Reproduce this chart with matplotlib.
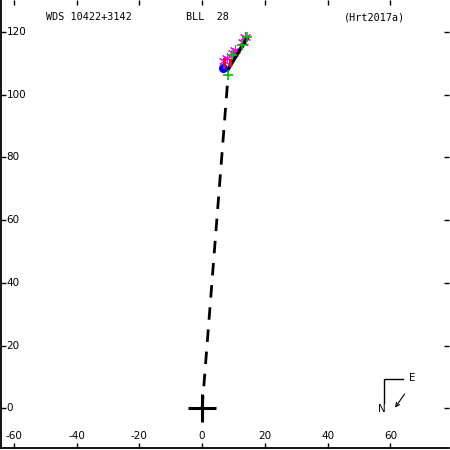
import matplotlib
matplotlib.use("Agg")
import matplotlib.pyplot as plt
from matplotlib import transforms

# ---- data ----
title_left = "WDS 10422+3142"
title_mid = "BLL  28"
title_right = "(Hrt2017a)"

xticks = [-60, -40, -20, 0, 20, 40, 60]
yticks = [0, 20, 40, 60, 80, 100, 120]

orbit_x = [7.9, 14.6]
orbit_y = [107.5, 118.5]

node_x = [0.0, 8.3]
node_y = [0.0, 106.3]

magenta_x = [13.7, 12.9, 10.5, 9.8, 7.8, 7.0]
magenta_y = [118.4, 116.9, 114.3, 113.3, 111.7, 110.6]

green_x = [14.2, 12.6, 9.4, 8.3]
green_y = [118.5, 115.9, 112.7, 106.3]

blue_x = [6.7]
blue_y = [108.6]

red_x0 = [6.9, 8.9]
red_y0 = [108.9, 109.5]
red_x1 = [6.9, 8.9]
red_y1 = [111.4, 111.1]

# ---- figure ----
fig = plt.figure(figsize=(4.5, 4.5), dpi=100)
ax = fig.add_axes([0.002, 0.004, 0.996, 0.996])
ax.set_xlim(-64.1, 78.7)
ax.set_ylim(-12.7, 130.2)
for s in ["top", "right"]:
    ax.spines[s].set_visible(False)
for s in ["left", "bottom"]:
    ax.spines[s].set_linewidth(1.3)

ax.set_xticks(xticks)
ax.set_yticks(yticks)
ax.tick_params(axis="both", direction="in", length=3.5, width=1.0,
               top=True, right=True, labelbottom=False, labelleft=False)

fs = 7.5
bx = transforms.blended_transform_factory(ax.transData, ax.transAxes)
by = transforms.blended_transform_factory(ax.transAxes, ax.transData)
for v in xticks:
    ax.text(v, 0.017, str(v), transform=bx, ha="center", va="bottom",
            fontsize=fs, family="DejaVu Sans")
for v in yticks:
    ax.text(0.013, v, str(v), transform=by, ha="left", va="center",
            fontsize=fs, family="DejaVu Sans")

ax.text(0.1, 0.962, title_left, transform=ax.transAxes, fontsize=7.3,
        family="DejaVu Sans Mono", ha="left", va="center")
ax.text(0.413, 0.962, title_mid, transform=ax.transAxes, fontsize=7.3,
        family="DejaVu Sans Mono", ha="left", va="center")
ax.text(0.766, 0.962, title_right, transform=ax.transAxes, fontsize=7.3,
        family="DejaVu Sans Mono", ha="left", va="center")

# dashed line to origin
ax.plot(node_x, node_y, color="black", lw=2.0, dashes=(4.5, 3.5))
# origin cross
ax.plot([0], [0], marker="+", markersize=20, mew=2.2, color="black")

ax.plot(magenta_x, magenta_y, ls="none", marker=(6, 2, 0), markersize=8,
        mew=0.8, color="magenta")
# orbit segment
ax.plot(orbit_x, orbit_y, color="black", lw=2.5, solid_capstyle="butt")
ax.plot(green_x, green_y, ls="none", marker="+", markersize=7,
        mew=1.2, color="#00c000")
ax.plot(blue_x, blue_y, ls="none", marker="o", markersize=5.5,
        color="blue")
# red residual lines
for xa, ya, xb, yb in zip(red_x0, red_y0, red_x1, red_y1):
    ax.plot([xa, xb], [ya, yb], color="red", lw=2.2)

# compass
ax.plot([57.8, 57.8, 64.1], [1.6, 9.5, 9.5], color="black", lw=1.0)
ax.text(66.0, 9.6, "E", fontsize=fs, family="DejaVu Sans", ha="left", va="center")
ax.text(57.3, -0.1, "N", fontsize=fs, family="DejaVu Sans", ha="center", va="center")
ax.annotate("", xy=(61.0, -0.5), xytext=(65.0, 5.3),
            arrowprops=dict(arrowstyle="->", lw=0.8, color="black",
                            mutation_scale=7))

fig.savefig("out.png", dpi=100)
